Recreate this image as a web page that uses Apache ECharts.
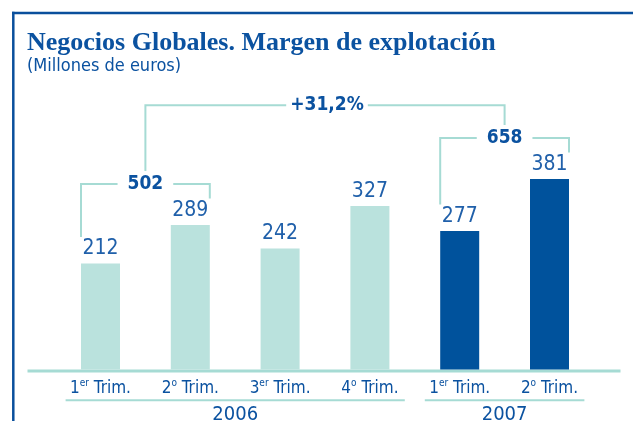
<!DOCTYPE html>
<html>
<head>
<meta charset="utf-8">
<script src="https://cdn.jsdelivr.net/npm/echarts@6/dist/echarts.min.js"></script>
<style>
  html, body { margin: 0; padding: 0; background: #fff; overflow: hidden; }
  #chart { width: 633px; height: 421px; }
</style>
</head>
<body>
<div id="chart"></div>
<script>
  // quarter labels are split so the ordinal suffix can be drawn raised
  const quarters = ['1', '2', '3', '4', '1', '2'];
  const suffixes = ['er', 'o', 'er', 'o', 'er', 'o'];
  const values = [212, 289, 242, 327, 277, 381];
  const years = ['2006', '2007'];
  const yearFirst = [0, 4];
  const yearLast = [3, 5];
  // half-year totals shown above each pair of quarters
  const pairFirst = [0, 4];
  const pairLast = [1, 5];
  const pairTotals = ['502', '658'];
  const growthLabel = '+31,2%';

  const narrow = '"DejaVu Sans Condensed", "Liberation Sans Narrow", Roboto, sans-serif';
  const darkBlue = '#0b52a0';
  const labelBlue = '#2060aa';
  const lightBar = '#bae2dd';
  const darkBar = '#00529c';
  const bracketColor = '#a6dbd4';
  const barWidth = 39;

  const chart = echarts.init(document.getElementById('chart'));

  function pairShape(api, i) {
    const a = pairFirst[i];
    const b = pairLast[i];
    const xa = api.coord([a, 0])[0] - barWidth / 2;
    const xb = api.coord([b, 0])[0] + barWidth / 2;
    const ta = api.coord([a, values[a]])[1];
    const tb = api.coord([b, values[b]])[1];
    const y = Math.min(ta, tb) - 41;
    return { xa: xa, xb: xb, ta: ta, tb: tb, y: y, cx: (xa + xb) / 2 };
  }

  function bracketText(text, x, y, pad) {
    return {
      type: 'text',
      z2: 10,
      style: {
        text: text,
        x: x,
        y: y,
        align: 'center',
        verticalAlign: 'middle',
        fill: darkBlue,
        font: 'bold 19px ' + narrow,
        backgroundColor: '#fff',
        padding: [0, pad]
      }
    };
  }

  const option = {
    animation: false,
    backgroundColor: '#fff',
    title: {
      left: 27,
      top: 30,
      text: 'Negocios Globales. Margen de explotación',
      subtext: '(Millones de euros)',
      itemGap: 1,
      padding: 0,
      textStyle: {
        fontFamily: '"Liberation Serif", "DejaVu Serif", serif',
        fontWeight: 'bold',
        fontSize: 26,
        color: darkBlue
      },
      subtextStyle: {
        fontFamily: narrow,
        fontSize: 18,
        color: darkBlue
      }
    },
    graphic: [
      {
        type: 'line',
        shape: { x1: 12, y1: 13, x2: 633, y2: 13 },
        style: { stroke: '#0a4f9c', lineWidth: 2.5 }
      },
      {
        type: 'line',
        shape: { x1: 13.3, y1: 11.75, x2: 13.3, y2: 421 },
        style: { stroke: '#0a4f9c', lineWidth: 2.5 }
      },
      {
        type: 'line',
        shape: { x1: 27.5, y1: 371, x2: 620.5, y2: 371 },
        style: { stroke: bracketColor, lineWidth: 3 }
      }
    ],
    grid: { left: 55.6, right: 38.6, top: 19.5, bottom: 51.5 },
    xAxis: {
      type: 'category',
      data: quarters.map((q, i) => q + suffixes[i] + ' Trim.'),
      axisLine: { show: false },
      axisTick: { show: false },
      axisLabel: {
        interval: 0,
        margin: 9,
        formatter: (v, i) => '{n|' + quarters[i] + '}{s|' + suffixes[i] + '}{t| Trim.}',
        rich: {
          n: { fontFamily: narrow, fontSize: 17, lineHeight: 20, color: darkBlue },
          s: { fontFamily: narrow, fontSize: 10, lineHeight: 13, color: darkBlue, verticalAlign: 'top' },
          t: { fontFamily: narrow, fontSize: 17, lineHeight: 20, color: darkBlue }
        }
      }
    },
    yAxis: {
      type: 'value',
      min: 0,
      max: 700,
      show: false,
      splitLine: { show: false }
    },
    series: [
      {
        type: 'bar',
        data: values,
        barWidth: barWidth,
        itemStyle: {
          color: (p) => (p.dataIndex >= yearFirst[1] ? darkBar : lightBar)
        },
        label: {
          show: true,
          position: 'top',
          distance: 4,
          color: labelBlue,
          fontFamily: narrow,
          fontSize: 21
        }
      },
      {
        type: 'custom',
        silent: true,
        clip: false,
        z: 5,
        data: pairTotals.map((t, i) => [pairFirst[i], pairLast[i]]),
        renderItem: (params, api) => {
          const p = pairShape(api, params.dataIndex);
          return {
            type: 'group',
            children: [
              {
                type: 'polyline',
                shape: { points: [[p.xa, p.ta - 26.5], [p.xa, p.y], [p.xb, p.y], [p.xb, p.tb - 26.5]] },
                style: { stroke: bracketColor, lineWidth: 2, fill: null }
              },
              bracketText(pairTotals[params.dataIndex], p.cx, p.y + 0.5, 10)
            ]
          };
        }
      },
      {
        type: 'custom',
        silent: true,
        clip: false,
        z: 5,
        data: [[0, 0]],
        renderItem: (params, api) => {
          const p0 = pairShape(api, 0);
          const p1 = pairShape(api, 1);
          const y = Math.min(p0.y, p1.y) - 32.7;
          return {
            type: 'group',
            children: [
              {
                type: 'polyline',
                shape: { points: [[p0.cx, p0.y - 13], [p0.cx, y], [p1.cx, y], [p1.cx, p1.y - 13]] },
                style: { stroke: bracketColor, lineWidth: 2, fill: null }
              },
              bracketText(growthLabel, (p0.cx + p1.cx) / 2 + 2, y, 4)
            ]
          };
        }
      },
      {
        type: 'custom',
        silent: true,
        clip: false,
        z: 5,
        data: years.map((y, i) => [yearFirst[i], yearLast[i]]),
        renderItem: (params, api) => {
          const band = api.size([1, 0])[0];
          const x0 = api.coord([api.value(0), 0])[0] - band / 2 + 10;
          const x1 = api.coord([api.value(1), 0])[0] + band / 2 - 10;
          const base = api.coord([0, 0])[1];
          return {
            type: 'group',
            children: [
              {
                type: 'line',
                shape: { x1: x0, y1: base + 30.7, x2: x1, y2: base + 30.7 },
                style: { stroke: bracketColor, lineWidth: 2 }
              },
              {
                type: 'text',
                style: {
                  text: years[params.dataIndex],
                  x: (x0 + x1) / 2,
                  y: base + 35,
                  align: 'center',
                  verticalAlign: 'top',
                  fill: darkBlue,
                  font: '20px ' + narrow
                }
              }
            ]
          };
        }
      }
    ]
  };

  chart.setOption(option);
</script>
</body>
</html>
